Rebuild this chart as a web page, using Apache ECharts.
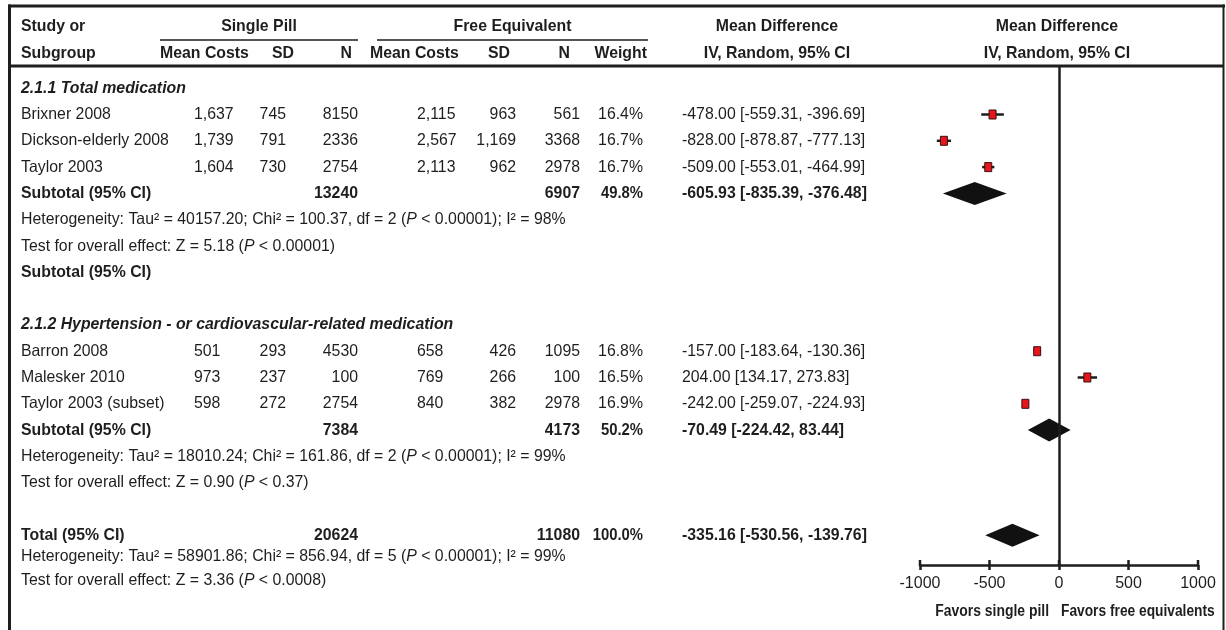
<!DOCTYPE html>
<html>
<head>
<meta charset="utf-8">
<script src="https://cdn.jsdelivr.net/npm/echarts/dist/echarts.min.js"></script>
<style>
  html, body { margin: 0; padding: 0; background: #ffffff; }
  #chart { width: 1226px; height: 630px; }
</style>
</head>
<body>
<div id="chart"></div>
<script>
// ---- Study-level data ----
const studies   = ['Brixner 2008', 'Dickson-elderly 2008', 'Taylor 2003', 'Barron 2008', 'Malesker 2010', 'Taylor 2003 (subset)'];
const spMean    = ['1,637', '1,739', '1,604', '501', '973', '598'];
const spSD      = ['745', '791', '730', '293', '237', '272'];
const spN       = [8150, 2336, 2754, 4530, 100, 2754];
const feMean    = ['2,115', '2,567', '2,113', '658', '769', '840'];
const feSD      = ['963', '1,169', '962', '426', '266', '382'];
const feN       = [561, 3368, 2978, 1095, 100, 2978];
const weights   = ['16.4%', '16.7%', '16.7%', '16.8%', '16.5%', '16.9%'];
const md        = [-478.00, -828.00, -509.00, -157.00, 204.00, -242.00];
const mdLow     = [-559.31, -878.87, -553.01, -183.64, 134.17, -259.07];
const mdHigh    = [-396.69, -777.13, -464.99, -130.36, 273.83, -224.93];
const studyRows = [1, 2, 3, 10, 11, 12];

// ---- Pooled estimates (two subtotals and the overall total) ----
const pooledLabels  = ['Subtotal (95% CI)', 'Subtotal (95% CI)', 'Total (95% CI)'];
const pooledSpN     = [13240, 7384, 20624];
const pooledFeN     = [6907, 4173, 11080];
const pooledWeights = ['49.8%', '50.2%', '100.0%'];
const pooledMd      = [-605.93, -70.49, -335.16];
const pooledLow     = [-835.39, -224.42, -530.56];
const pooledHigh    = [-376.48, 83.44, -139.76];
const pooledRows    = [4, 13, 17];

// ---- Subgroup titles and statistics lines ----
const subgroupTitles = ['2.1.1 Total medication', '2.1.2 Hypertension - or cardiovascular-related medication'];
const subgroupRows   = [0, 9];
const emptySubtotalRow = 7;
const hetTau  = ['40157.20', '18010.24', '58901.86'];
const hetChi  = ['100.37', '161.86', '856.94'];
const hetDf   = [2, 2, 5];
const hetP    = ['0.00001', '0.00001', '0.00001'];
const hetI2   = ['98%', '99%', '99%'];
const hetRows = [5, 14, 17.8];
const testZ   = ['5.18', '0.90', '3.36'];
const testP   = ['0.00001', '0.37', '0.0008'];
const testRows = [6, 15, 18.72];

// ---- Axis ----
const xTicks = [-1000, -500, 0, 500, 1000];
const favorsLeft  = 'Favors single pill';
const favorsRight = 'Favors free equivalents';

const FONT = "'Liberation Sans', Arial, sans-serif";
const FS = 16.5;      // table text size
const SX = 0.96;      // slight horizontal squeeze for a condensed look
const INK = '#1e1e1e';

const chart = echarts.init(document.getElementById('chart'), null, { renderer: 'canvas' });

const X_LEFT = 920, X_RIGHT = 1198;   // -1000 .. 1000
const Y_TOP = 66, Y_BOTTOM = 565;     // header rule .. axis line
const ROW0 = 88.2, ROWH = 26.3;       // pixel y of row 0 and row pitch
const Y_MIN = (Y_TOP - ROW0) / ROWH, Y_MAX = (Y_BOTTOM - ROW0) / ROWH;

chart.setOption({
  animation: false,
  backgroundColor: '#ffffff',
  grid: { left: X_LEFT, top: Y_TOP, width: X_RIGHT - X_LEFT, height: Y_BOTTOM - Y_TOP, containLabel: false },
  xAxis: {
    type: 'value', min: xTicks[0], max: xTicks[xTicks.length - 1], interval: 500, position: 'bottom',
    axisLine: { show: true, onZero: false, lineStyle: { color: INK, width: 2.5 } },
    axisTick: { show: true, length: 5, lineStyle: { color: INK, width: 2.5 } },
    axisLabel: { color: INK, fontFamily: FONT, fontSize: 16, margin: 11, formatter: v => String(v) },
    splitLine: { show: false }
  },
  yAxis: { type: 'value', inverse: true, min: Y_MIN, max: Y_MAX, show: false },
  series: [
    {
      // line of no effect
      type: 'line', data: [], symbol: 'none',
      markLine: {
        silent: true, symbol: 'none', label: { show: false },
        lineStyle: { color: INK, width: 2.5, type: 'solid' },
        data: [{ xAxis: 0 }]
      }
    },
    {
      // upper half of the tick marks, so they cross the axis line
      type: 'custom', silent: true,
      data: xTicks.map(v => [v, Y_MAX]),
      renderItem: function (params, api) {
        const p = api.coord([api.value(0), api.value(1)]);
        return { type: 'line', shape: { x1: p[0], y1: p[1] - 5, x2: p[0], y2: p[1] }, style: { stroke: INK, lineWidth: 2.5 } };
      }
    },
    {
      // study estimates: CI whisker and weighted square
      type: 'custom',
      data: studies.map((_, i) => [md[i], mdLow[i], mdHigh[i], studyRows[i]]),
      encode: { x: [0, 1, 2], y: 3 },
      renderItem: function (params, api) {
        const r = api.value(3);
        const c = api.coord([api.value(0), r]);
        const l = api.coord([api.value(1), r]);
        const h = api.coord([api.value(2), r]);
        return {
          type: 'group',
          children: [
            { type: 'line', shape: { x1: l[0], y1: l[1], x2: h[0], y2: h[1] }, style: { stroke: INK, lineWidth: 2.5 } },
            { type: 'rect', shape: { x: c[0] - 3.5, y: c[1] - 4.5, width: 7, height: 9 }, style: { fill: '#e5161c', stroke: '#3b1010', lineWidth: 1 } }
          ]
        };
      }
    },
    {
      // pooled estimates: diamonds
      type: 'custom',
      data: pooledMd.map((v, i) => [v, pooledLow[i], pooledHigh[i], pooledRows[i]]),
      encode: { x: [0, 1, 2], y: 3 },
      renderItem: function (params, api) {
        const r = api.value(3);
        const c = api.coord([api.value(0), r]);
        const l = api.coord([api.value(1), r]);
        const h = api.coord([api.value(2), r]);
        return {
          type: 'polygon',
          shape: { points: [[l[0], c[1]], [c[0], c[1] - 11.5], [h[0], c[1]], [c[0], c[1] + 11.5]] },
          style: { fill: '#111111' }
        };
      }
    }
  ]
});

// ---- Table text, placed on the same row scale as the forest plot ----
const rowY = r => chart.convertToPixel({ yAxisIndex: 0 }, r);

function txt(x, y, s, o) {
  o = o || {};
  const size = o.size || FS;
  return {
    type: 'text', x: x, y: y, scaleX: o.sx || SX, silent: true,
    style: {
      text: s, fill: o.fill || INK,
      fontFamily: FONT, fontSize: size,
      fontWeight: o.bold ? 'bold' : 'normal',
      fontStyle: o.italic ? 'italic' : 'normal',
      textAlign: o.align || 'left', align: o.align || 'left',
      textVerticalAlign: 'middle', verticalAlign: 'middle',
      rich: { it: { fontFamily: FONT, fontSize: size, fontStyle: 'italic', fill: o.fill || INK } }
    }
  };
}
function hline(x1, x2, y, w, color) {
  return { type: 'line', silent: true, shape: { x1: x1, y1: y, x2: x2, y2: y }, style: { stroke: color || INK, lineWidth: w } };
}
function vline(x, y1, y2, w, color) {
  return { type: 'line', silent: true, shape: { x1: x, y1: y1, x2: x, y2: y2 }, style: { stroke: color || INK, lineWidth: w } };
}

// column anchors
const C = {
  study: 21,
  spMean: 194,     // left aligned
  spSD: 286,       // right aligned
  spN: 358,        // right aligned
  feMean: 417,     // left aligned
  feSD: 516,       // right aligned
  feN: 580,        // right aligned
  weight: 643,     // right aligned
  md: 682          // left aligned
};
const fmt = v => v.toFixed(2);
const ciText = (m, l, h) => fmt(m) + ' [' + fmt(l) + ', ' + fmt(h) + ']';

const g = [];
// frame
g.push(vline(9.5, 4.5, 630, 3));
g.push(hline(8, 1225, 6, 3));
g.push(vline(1223.5, 4.5, 630, 2));
// header
const H1 = 26, H2 = 53;
g.push(txt(C.study, H1, 'Study or', { bold: true }));
g.push(txt(C.study, H2, 'Subgroup', { bold: true }));
g.push(txt((160 + 358) / 2, H1, 'Single Pill', { bold: true, align: 'center' }));
g.push(txt((377 + 648) / 2, H1, 'Free Equivalent', { bold: true, align: 'center' }));
g.push(hline(160, 358, 40, 2, '#555555'));
g.push(hline(377, 648, 40, 2, '#555555'));
g.push(txt(160, H2, 'Mean Costs', { bold: true }));
g.push(txt(294, H2, 'SD', { bold: true, align: 'right' }));
g.push(txt(352, H2, 'N', { bold: true, align: 'right' }));
g.push(txt(370, H2, 'Mean Costs', { bold: true }));
g.push(txt(510, H2, 'SD', { bold: true, align: 'right' }));
g.push(txt(570, H2, 'N', { bold: true, align: 'right' }));
g.push(txt(647, H2, 'Weight', { bold: true, align: 'right' }));
g.push(txt(777, H1, 'Mean Difference', { bold: true, align: 'center' }));
g.push(txt(777, H2, 'IV, Random, 95% CI', { bold: true, align: 'center' }));
g.push(txt(1057, H1, 'Mean Difference', { bold: true, align: 'center' }));
g.push(txt(1057, H2, 'IV, Random, 95% CI', { bold: true, align: 'center' }));
g.push(hline(8, 1223, Y_TOP, 3));

// subgroup titles
subgroupTitles.forEach((t, i) => g.push(txt(C.study, rowY(subgroupRows[i]), t, { bold: true, italic: true })));

// study rows
studies.forEach((s, i) => {
  const y = rowY(studyRows[i]);
  g.push(txt(C.study, y, s));
  g.push(txt(C.spMean, y, spMean[i]));
  g.push(txt(C.spSD, y, spSD[i], { align: 'right' }));
  g.push(txt(C.spN, y, String(spN[i]), { align: 'right' }));
  g.push(txt(C.feMean, y, feMean[i]));
  g.push(txt(C.feSD, y, feSD[i], { align: 'right' }));
  g.push(txt(C.feN, y, String(feN[i]), { align: 'right' }));
  g.push(txt(C.weight, y, weights[i], { align: 'right' }));
  g.push(txt(C.md, y, ciText(md[i], mdLow[i], mdHigh[i])));
});

// pooled rows
pooledLabels.forEach((s, i) => {
  const y = rowY(pooledRows[i]);
  g.push(txt(C.study, y, s, { bold: true }));
  g.push(txt(C.spN, y, String(pooledSpN[i]), { bold: true, align: 'right' }));
  g.push(txt(C.feN, y, String(pooledFeN[i]), { bold: true, align: 'right' }));
  g.push(txt(C.weight, y, pooledWeights[i], { bold: true, align: 'right', sx: 0.9 }));
  g.push(txt(C.md, y, ciText(pooledMd[i], pooledLow[i], pooledHigh[i]), { bold: true }));
});
g.push(txt(C.study, rowY(emptySubtotalRow), 'Subtotal (95% CI)', { bold: true }));

// heterogeneity and overall-effect lines
hetTau.forEach((t, i) => {
  g.push(txt(C.study, rowY(hetRows[i]),
    'Heterogeneity: Tau\u00B2 = ' + t + '; Chi\u00B2 = ' + hetChi[i] + ', df = ' + hetDf[i] +
    ' ({it|P} < ' + hetP[i] + '); I\u00B2 = ' + hetI2[i]));
  g.push(txt(C.study, rowY(testRows[i]),
    'Test for overall effect: Z = ' + testZ[i] + ' ({it|P} < ' + testP[i] + ')'));
});

// axis direction captions
const xZero = chart.convertToPixel({ xAxisIndex: 0 }, 0);
g.push(txt(xZero - 10, 612, favorsLeft, { bold: true, align: 'right', size: 16, sx: 0.87 }));
g.push(txt(xZero + 2, 612, favorsRight, { bold: true, size: 16, sx: 0.86 }));

chart.setOption({ graphic: { elements: g } });
</script>
</body>
</html>
